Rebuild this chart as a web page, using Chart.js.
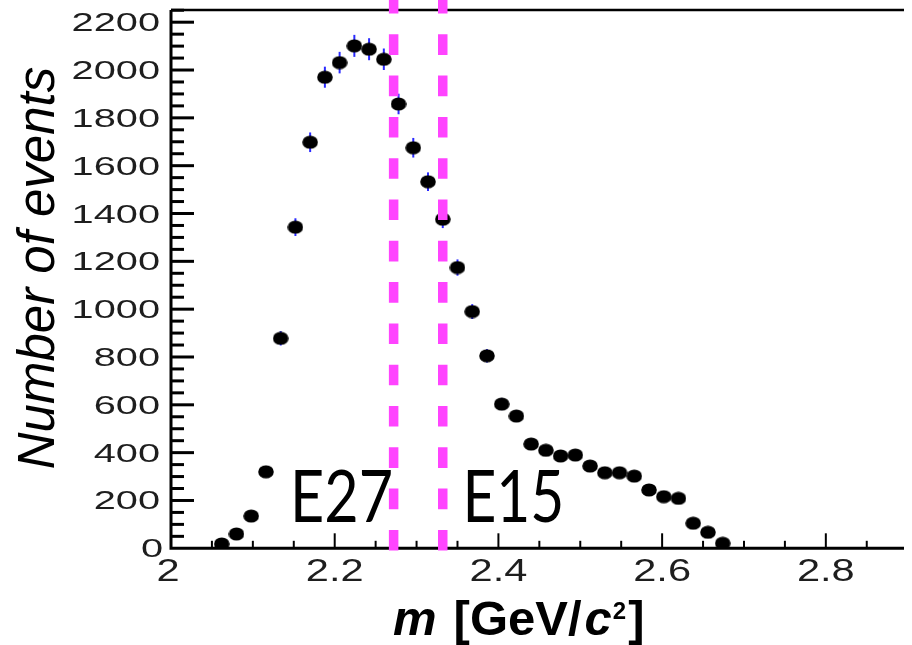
<!DOCTYPE html>
<html>
<head>
<meta charset="utf-8">
<title>Number of events vs m</title>
<script src="https://cdn.jsdelivr.net/npm/chart.js@4.4.1/dist/chart.umd.min.js"></script>
<style>
html,body{margin:0;padding:0;background:#fff;overflow:hidden}
#wrap{position:relative;width:912px;height:645px}
</style>
</head>
<body>
<div id="wrap"><canvas id="massChart"></canvas></div>
<script>
// ------------------------------------
// HISTOGRAM DATA
// ------------------------------------

// bin centres in GeV/c^2
const massBins = [2.062, 2.080, 2.098, 2.116, 2.134, 2.152, 2.170, 2.188, 2.206, 2.224,
                  2.242, 2.260, 2.278, 2.296, 2.314, 2.332, 2.350, 2.368, 2.386, 2.404,
                  2.422, 2.440, 2.458, 2.476, 2.494, 2.512, 2.530, 2.548, 2.566, 2.584,
                  2.602, 2.620, 2.638, 2.656, 2.674]

const events = [18, 60, 135, 320, 878, 1343, 1698, 1970, 2031, 2101,
                2087, 2045, 1858, 1675, 1533, 1376, 1174, 990, 805, 603,
                553, 436, 410, 386, 390, 344, 316, 316, 302, 244,
                216, 209, 105, 67, 21]

// statistical errors per bin
const eventErr = [4, 8, 12, 18, 30, 37, 41, 44, 45, 46,
                  46, 45, 43, 41, 39, 37, 34, 31, 28, 25,
                  24, 21, 20, 20, 20, 19, 18, 18, 17, 16,
                  15, 14, 10, 8, 5]

const yTicks = [0, 200, 400, 600, 800, 1000, 1200, 1400, 1600, 1800, 2000, 2200]
const xTicks = [2, 2.2, 2.4, 2.6, 2.8]
const xTickLabels = ["2", "2.2", "2.4", "2.6", "2.8"]

// selection cuts and the region names beside them
const cutLines = [2.272, 2.332]
const regionNames = ["E27", "E15"]

const SANS = '"Liberation Sans", Arial, Helvetica, sans-serif'


// ------------------------------------
// MARKER (slightly wide filled dot)
// ------------------------------------

const dot = document.createElement("canvas")
dot.width = 16
dot.height = 14
let dctx = dot.getContext("2d")
dctx.fillStyle = "#000"
dctx.beginPath()
dctx.ellipse(8, 7, 7.8, 6.6, 0, 0, Math.PI * 2)
dctx.fill()


// ------------------------------------
// ERROR BARS (drawn under the markers)
// ------------------------------------

const errorBars = {
    id: "errorBars",
    beforeDatasetsDraw(chart) {
        const c = chart.ctx
        const x = chart.scales.x
        const y = chart.scales.y
        c.save()
        c.strokeStyle = "#2a2aff"
        c.lineWidth = 2
        massBins.forEach((m, i) => {
            let px = x.getPixelForValue(m)
            c.beginPath()
            c.moveTo(px, y.getPixelForValue(events[i] - eventErr[i]))
            c.lineTo(px, y.getPixelForValue(events[i] + eventErr[i]))
            c.stroke()
        })
        c.restore()
    }
}


// ------------------------------------
// ROOT STYLE FRAME, TICKS, LABELS
// ------------------------------------

function stretchedText(c, text, x, y, sx, align) {
    c.save()
    c.translate(x, y)
    c.scale(sx, 1)
    c.textAlign = align
    c.fillText(text, 0, 0)
    c.restore()
}

const rootFrame = {
    id: "rootFrame",
    afterDatasetsDraw(chart) {
        const c = chart.ctx
        const area = chart.chartArea
        const x = chart.scales.x
        const y = chart.scales.y
        const x0 = x.getPixelForValue(2)
        const y0 = y.getPixelForValue(0)

        c.save()
        c.strokeStyle = "#000"
        c.fillStyle = "#000"

        // frame lines
        c.lineWidth = 2.5
        c.beginPath()
        c.moveTo(x0, area.top)
        c.lineTo(area.right, area.top)
        c.stroke()

        c.lineWidth = 3
        c.beginPath()
        c.moveTo(x0, area.top)
        c.lineTo(x0, y0)
        c.lineTo(area.right, y0)
        c.stroke()

        // y ticks every 50, major every 200
        c.lineWidth = 3
        for (let v = 50; v < y.max; v += 50) {
            let py = y.getPixelForValue(v)
            let len = v % 200 === 0 ? 23 : 13
            c.beginPath()
            c.moveTo(x0, py)
            c.lineTo(x0 + len, py)
            c.stroke()
        }

        // x ticks every 0.05, major every 0.2
        c.lineWidth = 2
        for (let k = 1; 2 + k * 0.05 < x.max; k++) {
            let px = x.getPixelForValue(2 + k * 0.05)
            let len = k % 4 === 0 ? 15 : 7.5
            c.beginPath()
            c.moveTo(px, y0)
            c.lineTo(px, y0 - len)
            c.stroke()
        }

        // tick labels
        c.fillStyle = "#1e1e1e"
        c.font = "26.5px " + SANS
        c.textBaseline = "alphabetic"
        yTicks.forEach(v => {
            let py = y.getPixelForValue(v)
            let right = v === 0 ? 163 : 160
            stretchedText(c, String(v), right, py + 9, 1.5, "right")
        })

        c.font = "32px " + SANS
        xTicks.forEach((v, i) => {
            let px = x.getPixelForValue(v)
            if (v === 2) px -= 3
            stretchedText(c, xTickLabels[i], px, 580.5, 1.3, "center")
        })

        // y axis title
        c.fillStyle = "#000"
        c.font = "italic 51px " + SANS
        c.save()
        c.translate(54, 268)
        c.rotate(-Math.PI / 2)
        c.textAlign = "center"
        c.fillText("Number of events", 0, 0)
        c.restore()

        // x axis title: m [GeV/c2]
        c.textAlign = "left"
        let tx = 393
        const base = 635
        c.font = "italic bold 49px " + SANS
        c.fillText("m", tx, base)
        tx += c.measureText("m").width + 17
        c.font = "bold 49px " + SANS
        c.fillText("[GeV/", tx, base)
        tx += c.measureText("[GeV/").width + 3
        c.font = "italic bold 49px " + SANS
        c.fillText("c", tx, base)
        tx += c.measureText("c").width + 1
        c.font = "bold 24px " + SANS
        c.fillText("2", tx, base - 16)
        tx += c.measureText("2").width + 2
        c.font = "bold 49px " + SANS
        c.fillText("]", tx, base)

        // region names
        c.font = "71px Lato, \"Open Sans\", sans-serif"
        const spots = [[2.1455, 103], [2.356, 102]]
        regionNames.forEach((name, i) => {
            let w = c.measureText(name).width
            let px = x.getPixelForValue(spots[i][0])
            stretchedText(c, name, px, 521.7, spots[i][1] / w, "left")
        })

        // dashed cut lines
        c.strokeStyle = "#ff44ff"
        c.lineWidth = 9.5
        c.setLineDash([20.6, 20.7])
        c.lineDashOffset = 7
        cutLines.forEach(v => {
            let px = x.getPixelForValue(v)
            c.beginPath()
            c.moveTo(px, 0)
            c.lineTo(px, y0 + 3)
            c.stroke()
        })

        c.restore()
    }
}


// ------------------------------------
// CHART
// ------------------------------------

const ctx = document.getElementById("massChart").getContext("2d")

const massChart = new Chart(ctx, {
    type: "scatter",
    data: {
        datasets: [{
            label: "events",
            data: massBins.map((m, i) => ({ x: m, y: events[i] })),
            pointStyle: dot,
            pointRadius: 7,
            pointHoverRadius: 7
        }]
    },
    options: {
        responsive: true,
        maintainAspectRatio: false,
        animation: false,
        events: [],
        layout: {
            padding: { left: 171, top: 10, right: 0, bottom: 96.7 }
        },
        plugins: {
            legend: { display: false },
            tooltip: { enabled: false }
        },
        scales: {
            x: { type: "linear", min: 2, max: 2.8955, display: false },
            y: { type: "linear", min: 0, max: 2251, display: false }
        }
    },
    plugins: [errorBars, rootFrame]
})
</script>
</body>
</html>
